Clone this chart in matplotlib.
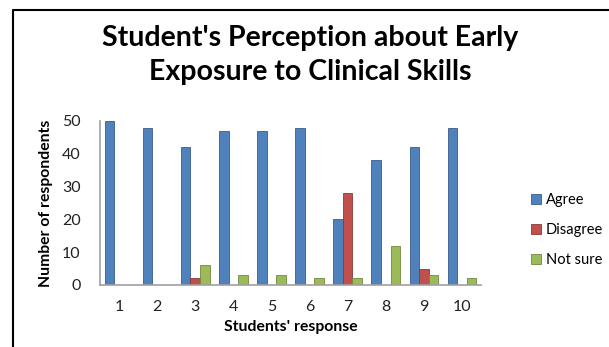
import numpy as np
import matplotlib.pyplot as plt
from matplotlib.lines import Line2D

# data
responses = [1, 2, 3, 4, 5, 6, 7, 8, 9, 10]
agree = [50, 48, 42, 47, 47, 48, 20, 38, 42, 48]
disagree = [0, 0, 2, 0, 0, 0, 28, 0, 5, 0]
not_sure = [0, 0, 6, 3, 3, 2, 2, 12, 3, 2]

plt.rcParams['font.family'] = ['Lato', 'DejaVu Sans']

fig = plt.figure(figsize=(6.09, 3.47), dpi=100)
ax = fig.add_axes([100 / 609, 1 - 285 / 347, 381 / 609, 164 / 347])

x = np.array(responses)
w = 0.25
series = [(agree, '#4F81BD', '#385D8A', 'Agree', -w),
          (disagree, '#C0504D', '#8C3836', 'Disagree', 0),
          (not_sure, '#9BBB59', '#71893F', 'Not sure', w)]
for vals, col, dark, name, off in series:
    ax.bar(x + off, vals, width=w, color=col, edgecolor=dark, linewidth=0.6, label=name)

ax.set_xlim(0.5, 10.5)
ax.set_ylim(0, 50)
ax.set_xticks(x)
ax.set_xticklabels([str(r) for r in responses])
ax.set_yticks([0, 10, 20, 30, 40, 50])
ax.tick_params(length=0, labelsize=11.5, colors='#222222', pad=11)
ax.tick_params(axis='y', pad=14)
for s in ['top', 'right']:
    ax.spines[s].set_visible(False)
for s in ['left', 'bottom']:
    ax.spines[s].set_color('#A0A0A0')
    ax.spines[s].set_linewidth(1.2)

ax.set_xlabel("Students' response", fontsize=11.3, fontweight='bold', labelpad=4)
ax.set_ylabel('Number of respondents', fontsize=11.3, fontweight='bold', labelpad=6)

fig.text(0.51, 1 - 38 / 347, "Student's Perception about Early", ha='center', va='center',
         fontsize=20.5, fontweight='bold')
fig.text(0.51, 1 - 72 / 347, 'Exposure to Clinical Skills', ha='center', va='center',
         fontsize=20.5, fontweight='bold')

fig.legend(loc='center left', bbox_to_anchor=(518 / 609, 1 - 230 / 347), frameon=False,
           fontsize=10.5, handlelength=0.7, handleheight=0.7, handletextpad=0.3,
           labelspacing=1.1)

# frame: only left and top edges are visible in the crop
fx, fy = 13 / 609, 1 - 10 / 347
fig.lines.append(Line2D([fx, fx, 1.0], [0.0, fy, fy], transform=fig.transFigure,
                        color='black', linewidth=1.5))

fig.savefig('out.png', dpi=100)
